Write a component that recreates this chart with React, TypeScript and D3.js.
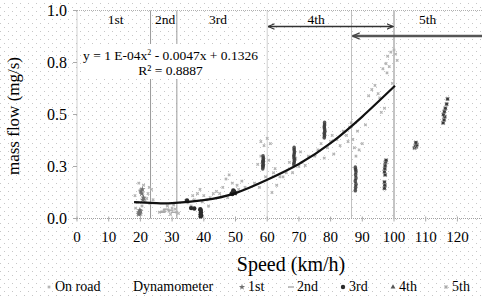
import React from "react";
import * as d3 from "d3";

const W = 482;
const H = 298;

// ---------- data ----------
const xTicks = [0, 10, 20, 30, 40, 50, 60, 70, 80, 90, 100, 110, 120];
const yTicks = [0, 0.25, 0.5, 0.75, 1.0];

const gearNames = ["1st", "2nd", "3rd", "4th", "5th"];
const gearNameSpeed = [12.2, 27.8, 44.5, 75.4, 110.6];
const gearBoundarySpeed = [23.2, 31.5, 60, 86.6, 100];
const arrow4th = [60, 100];
const arrow5th = [86.6, 135];

const equationText = ["y = 1 E-04x", " - 0.0047x + 0.1326"];
const rSquaredText = "R² = 0.8887";

// fitted trend line
const trendSpeed = [18, 25, 30, 40, 50, 60, 70, 80, 90, 100.3];
const trendFlow = [0.079, 0.074, 0.074, 0.088, 0.122, 0.186, 0.262, 0.362, 0.49, 0.638];

type P = [number, number];
const onRoad: P[] = [
  [18.3, 0.11], [19, 0.077], [19.9, 0.135], [20.8, 0.11], [22, 0.096], [22.4, 0.12], [23, 0.072],
  [21, 0.16], [19.5, 0.17], [23.5, 0.14], [18.5, 0.05], [20.5, 0.06], [24, 0.09], [21.5, 0.085],
  [22.8, 0.15], [20.2, 0.02],
  [26, 0.03], [27.5, 0.04], [29, 0.035], [30, 0.05], [31, 0.045], [31.5, 0.03], [28.5, 0.06],
  [32, 0.025], [30.5, 0.065], [29.5, 0.02],
  [36, 0.06], [37, 0.09], [38.8, 0.14], [38, 0.12], [40, 0.11], [41, 0.09], [42, 0.1], [39.5, 0.08],
  [43, 0.12], [36.5, 0.11], [44, 0.13], [41.5, 0.06], [35, 0.075],
  [46, 0.15], [47, 0.19], [48, 0.21], [49, 0.17], [50.5, 0.16], [51, 0.14], [52, 0.18], [45, 0.12],
  [53, 0.15], [47.5, 0.1],
  [56, 0.17], [57, 0.26], [58, 0.3], [59, 0.35], [60, 0.385], [61, 0.36], [59.5, 0.2], [62, 0.22],
  [63, 0.16], [61.5, 0.125], [57.5, 0.15], [64, 0.2], [60.5, 0.28], [58, 0.37], [62.5, 0.24],
  [66, 0.22], [67, 0.27], [69, 0.29], [70, 0.25], [71, 0.27], [72, 0.255], [68, 0.22], [73, 0.3],
  [65, 0.2], [70.5, 0.32],
  [75, 0.3], [76, 0.33], [77, 0.36], [79, 0.34], [80, 0.37], [81, 0.31], [82, 0.38], [78, 0.29],
  [83, 0.35], [80.5, 0.4],
  [84, 0.42], [85, 0.4], [86, 0.44], [87, 0.38], [87.5, 0.34], [88, 0.3], [89, 0.33], [86.5, 0.46],
  [90, 0.36], [88.5, 0.42], [91, 0.45], [85.5, 0.37],
  [92, 0.59], [93, 0.62], [94, 0.64], [95, 0.6], [96, 0.51], [97, 0.53], [96.5, 0.72], [97.5, 0.745],
  [98.5, 0.73], [98, 0.78], [99, 0.8], [100, 0.81], [100.5, 0.79], [99.5, 0.65], [95.5, 0.58],
  [97.8, 0.7], [101, 0.76],
];

const gear1: P[] = [
  [19.5, 0.02], [19.6, 0.03], [19.8, 0.04], [20, 0.035], [19.7, 0.025], [20.2, 0.13], [20.4, 0.12],
  [20.6, 0.14], [21, 0.1], [20.8, 0.09],
];
const gear2: P[] = [[27, 0.03], [27.3, 0.035], [29.5, 0.04], [30.5, 0.03], [28.2, 0.045]];
const gear3: P[] = [
  [39, 0.01], [39, 0.02], [39.1, 0.03], [39, 0.04], [38.9, 0.045], [39.2, 0.015],
  [36, 0.05], [37, 0.048], [34.7, 0.087],
  [48.8, 0.12], [49.2, 0.125], [49.6, 0.13], [49.3, 0.135], [49, 0.118], [49.9, 0.122],
];
const gear4: P[] = [
  [58.6, 0.24], [58.7, 0.25], [58.8, 0.26], [58.6, 0.27], [58.7, 0.28], [58.8, 0.29], [58.7, 0.3],
  [58.6, 0.255], [58.8, 0.275],
  [68.4, 0.26], [68.5, 0.27], [68.6, 0.28], [68.5, 0.29], [68.4, 0.3], [68.5, 0.31], [68.6, 0.32],
  [68.5, 0.33], [68.5, 0.34],
  [78, 0.39], [78.1, 0.4], [78, 0.41], [78.2, 0.42], [78.1, 0.43], [78, 0.44], [78.1, 0.45], [78.1, 0.46],
  [87.8, 0.135], [87.9, 0.15], [88, 0.165], [87.8, 0.18], [88, 0.195], [87.9, 0.21], [88, 0.225],
  [87.9, 0.235], [87.8, 0.245],
];
const gear5: P[] = [
  [97, 0.145], [97.1, 0.16], [97, 0.175], [97.2, 0.21], [97, 0.225], [97.1, 0.24], [97.2, 0.255],
  [97.3, 0.27], [97.5, 0.28],
  [106.5, 0.34], [107, 0.345], [106.8, 0.35], [107.2, 0.355], [106.9, 0.365],
  [115.5, 0.46], [115.8, 0.475], [116, 0.49], [115.6, 0.5], [115.9, 0.515], [116.2, 0.53], [116.6, 0.55],
  [116.9, 0.575],
];

const legendLabels = ["On road", "Dynamometer", "1st", "2nd", "3rd", "4th", "5th"];

// ---------- layout ----------
const x = d3.scaleLinear().domain([0, 130]).range([77, 77 + 130 * 3.17]);
const y = d3.scaleLinear().domain([0, 1]).range([218.5, 10.5]);
const FONT = "Liberation Serif, serif";

const legendTextX = [55, 133, 248, 297, 349, 399, 452];

function Marker({ kind, cx, cy, legend }: { kind: string; cx: number; cy: number; legend?: boolean }) {
  if (kind === "onroad") {
    return <path d={d3.symbol(d3.symbolCross, 7)()!} transform={`translate(${cx},${cy}) rotate(45)`} fill="#b4b4b4" />;
  }
  if (kind === "g1") {
    return <path d={d3.symbol(d3.symbolStar, 12)()!} transform={`translate(${cx},${cy})`} fill="#707070" />;
  }
  if (kind === "g2") {
    return <rect x={cx - 3} y={cy - 0.7} width={6} height={1.4} fill="#a8a8a8" />;
  }
  if (kind === "g3") {
    return <circle cx={cx} cy={cy} r={2.2} fill="#2a2a2a" />;
  }
  if (kind === "g4") {
    return legend ? (
      <path d={d3.symbol(d3.symbolTriangle, 10)()!} transform={`translate(${cx},${cy})`} fill="#555" />
    ) : (
      <ellipse cx={cx} cy={cy} rx={1.8} ry={2.2} fill="#3a3a3a" opacity={0.85} />
    );
  }
  if (kind === "g5") {
    return legend ? (
      <path d={d3.symbol(d3.symbolCross, 10)()!} transform={`translate(${cx},${cy}) rotate(45)`} fill="#aaa" />
    ) : (
      <g>
        <path d={d3.symbol(d3.symbolCross, 14)()!} transform={`translate(${cx},${cy}) rotate(45)`} fill="#9a9a9a" />
        <circle cx={cx} cy={cy} r={1.5} fill="#3a3a3a" />
      </g>
    );
  }
  return null;
}

export default function App() {
  const trend = d3
    .line<number>()
    .x((_, i) => x(trendSpeed[i]))
    .y((_, i) => y(trendFlow[i]))
    .curve(d3.curveNatural)(trendSpeed as any);

  const seriesList: { kind: string; pts: P[] }[] = [
    { kind: "onroad", pts: onRoad },
    { kind: "g2", pts: gear2 },
    { kind: "g1", pts: gear1 },
    { kind: "g3", pts: gear3 },
    { kind: "g4", pts: gear4 },
    { kind: "g5", pts: gear5 },
  ];

  const legendKinds = ["onroad", "", "g1", "g2", "g3", "g4", "g5"];
  const boundaryStyles = [
    { stroke: "#9a9a9a", width: 1, dash: "" },
    { stroke: "#9a9a9a", width: 1, dash: "" },
    { stroke: "#a0a0a0", width: 1, dash: "1 1" },
    { stroke: "#808080", width: 1, dash: "1 1" },
    { stroke: "#c4c4c4", width: 2, dash: "" },
  ];
  const top = y(1);
  const bottom = y(0);

  return (
    <svg
      width={W}
      height={H}
      style={{ position: "absolute", left: 0, top: 0, background: "#fff", fontFamily: FONT }}
    >
      <defs>
        <pattern id="dots" width={8} height={8} patternUnits="userSpaceOnUse">
          <rect x={4} y={3} width={1} height={1} fill="#c6c6c6" />
          <rect x={0} y={7} width={1} height={1} fill="#c6c6c6" />
        </pattern>
        <marker id="ah" viewBox="0 0 10 10" refX={9} refY={5} markerWidth={7} markerHeight={7} orient="auto-start-reverse" markerUnits="userSpaceOnUse">
          <path d="M0,1 L9,5 L0,9" fill="none" stroke="#333" strokeWidth={1.6} />
        </marker>
        <marker id="ah2" viewBox="0 0 10 10" refX={9} refY={5} markerWidth={8} markerHeight={8} orient="auto-start-reverse" markerUnits="userSpaceOnUse">
          <path d="M0,1 L9,5 L0,9" fill="none" stroke="#444" strokeWidth={1.6} />
        </marker>
      </defs>
      <rect width={W} height={H} fill="#fff" />
      <rect width={W} height={H} fill="url(#dots)" />

      {/* plot frame (dotted) */}
      <line x1={x(0)} x2={W} y1={top} y2={top} stroke="#b0b0b0" strokeDasharray="1 1" />
      <line x1={x(0)} x2={W} y1={bottom} y2={bottom} stroke="#a0a0a0" strokeDasharray="1 1" />
      <line x1={x(0)} x2={x(0)} y1={top} y2={bottom} stroke="#a0a0a0" strokeDasharray="1 1" />

      {/* ticks */}
      {yTicks.map((t) => (
        <line key={"yt" + t} x1={x(0) - 4} x2={x(0)} y1={y(t)} y2={y(t)} stroke="#aaa" />
      ))}
      {xTicks.map((t) => (
        <line key={"xt" + t} x1={x(t)} x2={x(t)} y1={bottom - 2} y2={bottom + 3} stroke="#aaa" />
      ))}

      {/* gear boundaries */}
      {gearBoundarySpeed.map((s, i) => (
        <line
          key={"gb" + i}
          x1={x(s)}
          x2={x(s)}
          y1={top}
          y2={bottom}
          stroke={boundaryStyles[i].stroke}
          strokeWidth={boundaryStyles[i].width}
          strokeDasharray={boundaryStyles[i].dash || undefined}
        />
      ))}

      {/* arrows */}
      <line x1={x(arrow4th[0]) + 1} x2={x(arrow4th[1]) - 1} y1={26.5} y2={26.5} stroke="#333" strokeWidth={1.6} markerStart="url(#ah)" markerEnd="url(#ah)" />
      <line x1={x(arrow5th[0]) + 1} x2={x(arrow5th[1])} y1={36} y2={36} stroke="#555" strokeWidth={2.4} markerStart="url(#ah2)" />

      {/* gear labels */}
      {gearNames.map((g, i) => (
        <text key={g} x={x(gearNameSpeed[i])} y={24} fontSize={13.5} textAnchor="middle" fill="#000">
          {g}
        </text>
      ))}

      {/* equation box */}
      <rect x={81} y={44} width={181} height={35} fill="#fff" />
      <text x={170.5} y={60} fontSize={13.5} textAnchor="middle" fill="#000">
        {equationText[0]}
        <tspan dy={-5} fontSize={8}>2</tspan>
        <tspan dy={5}>{equationText[1]}</tspan>
      </text>
      <text x={170.5} y={75} fontSize={13.5} textAnchor="middle" fill="#000">
        {rSquaredText}
      </text>

      {/* data */}
      {seriesList.map((s) => (
        <g key={s.kind}>
          {s.pts.map((p, i) => (
            <Marker key={i} kind={s.kind} cx={x(p[0])} cy={y(p[1])} />
          ))}
        </g>
      ))}

      {/* trend */}
      <path d={trend || ""} fill="none" stroke="#111" strokeWidth={2.2} />

      {/* axis labels */}
      {xTicks.map((t) => (
        <text key={"xl" + t} x={x(t)} y={242} fontSize={15} textAnchor="middle" fill="#000">
          {t}
        </text>
      ))}
      {yTicks.map((t) => (
        <text key={"yl" + t} x={67} y={y(t) + 5} fontSize={16} textAnchor="end" fill="#000">
          {d3.format(".1f")(t)}
        </text>
      ))}
      <text x={291} y={271} fontSize={20} textAnchor="middle" fill="#000">
        Speed (km/h)
      </text>
      <text transform="translate(19,116) rotate(-90)" fontSize={17} textAnchor="middle" fill="#000">
        mass flow (mg/s)
      </text>

      {/* legend */}
      {legendLabels.map((l, i) => (
        <g key={l}>
          {legendKinds[i] && <Marker kind={legendKinds[i]} cx={legendTextX[i] - 6} cy={287} legend />}
          <text x={legendTextX[i]} y={291} fontSize={14} fill="#000">
            {l}
          </text>
        </g>
      ))}
    </svg>
  );
}
